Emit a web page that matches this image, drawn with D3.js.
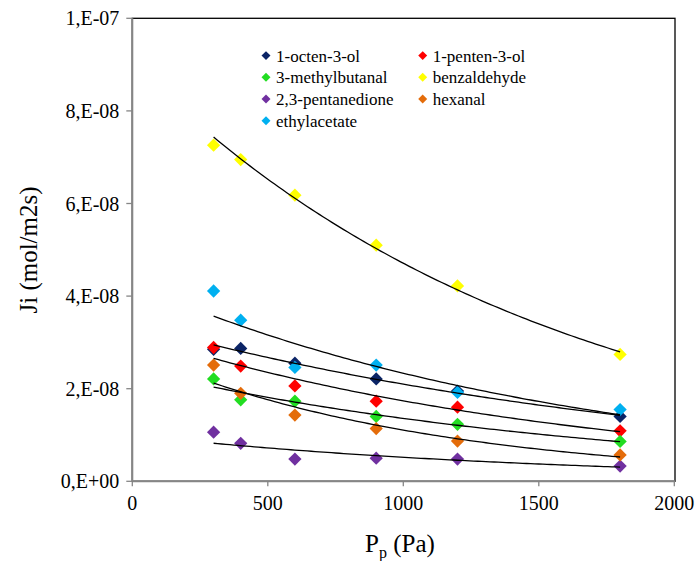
<!DOCTYPE html>
<html>
<head>
<meta charset="utf-8">
<script src="https://cdn.jsdelivr.net/npm/d3@7"></script>
</head>
<body style="margin:0">
<script>
// pressure values (Pa)
var pressures = [300, 400, 600, 900, 1200, 1800];

// series names, in legend order
var seriesNames = ["1-octen-3-ol", "1-penten-3-ol", "3-methylbutanal", "benzaldehyde",
  "2,3-pentanedione", "hexanal", "ethylacetate"];
var seriesColors = ["#0b2466", "#ff0000", "#22dd22", "#ffff00", "#7030a0", "#e46c0a", "#00b0f0"];

// flux values Ji (mol/m2s)
var octenol       = [2.85e-8, 2.87e-8, 2.55e-8, 2.21e-8, 1.95e-8, 1.40e-8];
var pentenol      = [2.89e-8, 2.49e-8, 2.06e-8, 1.73e-8, 1.60e-8, 1.09e-8];
var methylbutanal = [2.21e-8, 1.76e-8, 1.73e-8, 1.40e-8, 1.23e-8, 0.86e-8];
var benzaldehyde  = [7.26e-8, 6.95e-8, 6.18e-8, 5.10e-8, 4.22e-8, 2.74e-8];
var pentanedione  = [1.06e-8, 0.82e-8, 0.48e-8, 0.50e-8, 0.48e-8, 0.33e-8];
var hexanal       = [2.51e-8, 1.90e-8, 1.43e-8, 1.14e-8, 0.87e-8, 0.57e-8];
var ethylacetate  = [4.11e-8, 3.48e-8, 2.46e-8, 2.51e-8, 1.92e-8, 1.55e-8];
var seriesValues = [octenol, pentenol, methylbutanal, benzaldehyde, pentanedione, hexanal, ethylacetate];

var xTicks = [0, 500, 1000, 1500, 2000];
var yTicks = [0, 2e-8, 4e-8, 6e-8, 8e-8, 1e-7];
var yTickLabels = ["0,E+00", "2,E-08", "4,E-08", "6,E-08", "8,E-08", "1,E-07"];

var svgWidth = 698, svgHeight = 561;
var plot = { left: 132.3, right: 675, top: 18.3, bottom: 481.3 };

var svg = d3.select("body").append("svg")
  .attr("width", svgWidth)
  .attr("height", svgHeight);

var x = d3.scaleLinear().domain([0, 2000]).range([plot.left, 674.3]);
var y = d3.scaleLinear().domain([0, 1e-7]).range([plot.bottom, plot.top]);

// plot area frame (top/right black)
svg.append("rect")
  .attr("x", plot.left).attr("y", plot.top)
  .attr("width", plot.right - plot.left).attr("height", plot.bottom - plot.top)
  .attr("fill", "none").attr("stroke", "#000").attr("stroke-width", 1.3);

// axes, drawn by hand so the text keeps the serif face
var xAxis = svg.append("g").attr("transform", `translate(0, ${plot.bottom})`);
xAxis.append("line").attr("x1", plot.left).attr("x2", plot.right)
  .attr("stroke", "#868686").attr("stroke-width", 2);
xTicks.forEach(function(t) {
  xAxis.append("line").attr("x1", x(t)).attr("x2", x(t)).attr("y1", 0).attr("y2", 5)
    .attr("stroke", "#868686").attr("stroke-width", 1.3);
  xAxis.append("text").attr("x", x(t)).attr("y", 29)
    .attr("text-anchor", "middle")
    .attr("font-family", "Liberation Serif").attr("font-size", 20)
    .text(t);
});

var yAxis = svg.append("g").attr("transform", `translate(${plot.left}, 0)`);
yAxis.append("line").attr("y1", plot.top).attr("y2", plot.bottom)
  .attr("stroke", "#868686").attr("stroke-width", 2);
yTicks.forEach(function(t, i) {
  yAxis.append("line").attr("x1", -6).attr("x2", 0).attr("y1", y(t)).attr("y2", y(t))
    .attr("stroke", "#868686").attr("stroke-width", 1.3);
  yAxis.append("text").attr("x", -13).attr("y", y(t) + 7)
    .attr("text-anchor", "end")
    .attr("font-family", "Liberation Serif").attr("font-size", 20)
    .text(yTickLabels[i]);
});

// markers
var diamond = d3.symbol().type(d3.symbolSquare).size(88);
seriesValues.forEach(function(vals, si) {
  svg.append("g").selectAll("path")
    .data(vals)
    .enter()
    .append("path")
    .attr("d", diamond)
    .attr("transform", (d, i) => `translate(${x(pressures[i])}, ${y(d)}) rotate(45)`)
    .attr("fill", seriesColors[si]);
});

// exponential trendlines (least squares on ln y)
function expFit(vals) {
  var mx = d3.mean(pressures);
  var ly = vals.map(v => Math.log(v));
  var my = d3.mean(ly);
  var sxy = 0, sxx = 0;
  for (var i = 0; i < vals.length; i++) {
    sxy += (pressures[i] - mx) * (ly[i] - my);
    sxx += (pressures[i] - mx) * (pressures[i] - mx);
  }
  var b = sxy / sxx;
  var a = my - b * mx;
  return p => Math.exp(a + b * p);
}

var line = d3.line().x(d => x(d[0])).y(d => y(d[1]));
var xs = d3.range(300, 1801, 15);
seriesValues.forEach(function(vals) {
  var f = expFit(vals);
  svg.append("path")
    .datum(xs.map(p => [p, f(p)]))
    .attr("d", line)
    .attr("fill", "none")
    .attr("stroke", "#000")
    .attr("stroke-width", 1.3);
});

// legend
var legendCols = [266, 422.7];
var legendRow0 = 55.6, legendRowGap = 21.7;
var legendDiamond = d3.symbol().type(d3.symbolSquare).size(40);
seriesNames.forEach(function(name, i) {
  var lx = legendCols[i % 2];
  var ly = legendRow0 + Math.floor(i / 2) * legendRowGap;
  svg.append("path")
    .attr("d", legendDiamond)
    .attr("transform", `translate(${lx}, ${ly}) rotate(45)`)
    .attr("fill", seriesColors[i]);
  svg.append("text")
    .attr("x", lx + 10)
    .attr("y", ly + 6)
    .attr("font-family", "Liberation Serif")
    .attr("font-size", 17)
    .text(name);
});

// axis titles
svg.append("text")
  .attr("transform", "translate(37, 250) rotate(-90)")
  .attr("text-anchor", "middle")
  .attr("font-family", "Liberation Serif")
  .attr("font-size", 25)
  .text("Ji (mol/m2s)");

var xTitle = svg.append("text")
  .attr("x", 400)
  .attr("y", 552)
  .attr("text-anchor", "middle")
  .attr("font-family", "Liberation Serif")
  .attr("font-size", 25);
xTitle.append("tspan").text("P");
xTitle.append("tspan").attr("dy", 6).attr("font-size", 16).text("p");
xTitle.append("tspan").attr("dy", -6).text(" (Pa)");
</script>
</body>
</html>
